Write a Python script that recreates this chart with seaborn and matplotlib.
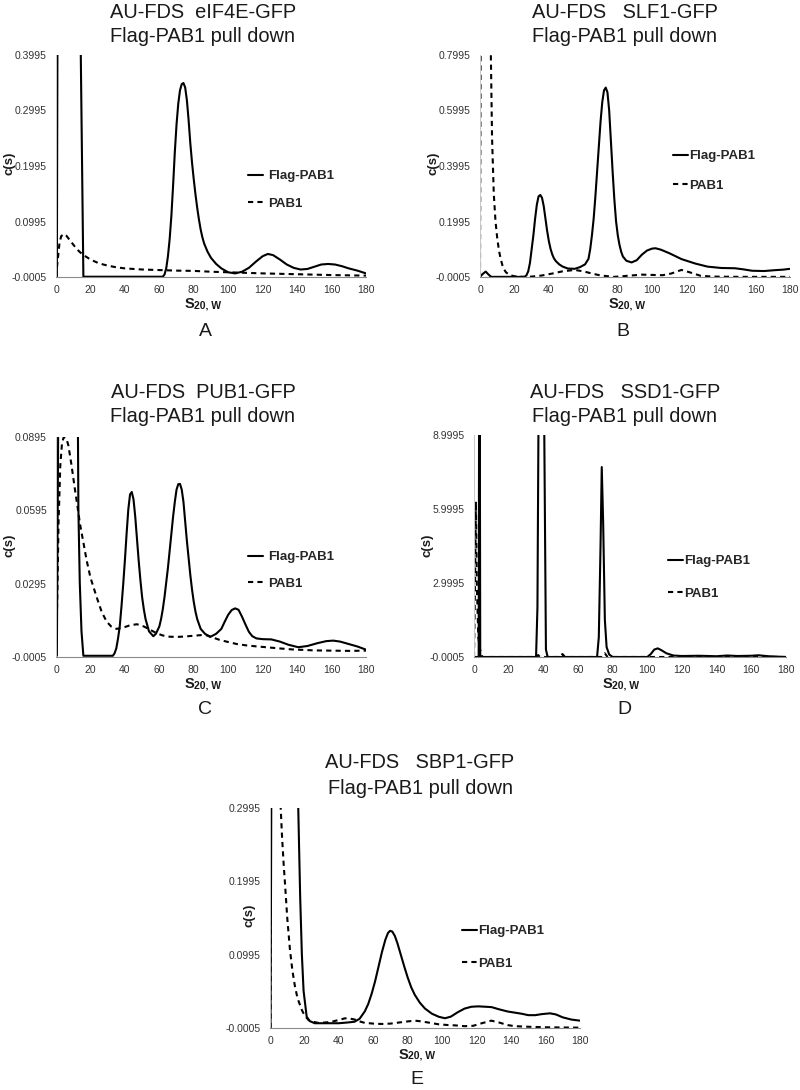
import matplotlib
matplotlib.use("Agg")
import matplotlib.pyplot as plt
import seaborn as sns

# ---------------- data ----------------
x_ticks = [0, 20, 40, 60, 80, 100, 120, 140, 160, 180]

# Panel A  eIF4E-GFP
a_flag_s = [0, 0.5, 0.9, 1.5, 13.5, 14.2, 15.9, 17, 62, 63, 64, 65, 66, 67, 68, 69, 70, 71, 72, 73, 74, 75, 76, 77,
            78, 79, 80, 81, 82, 83, 84, 85, 86, 88, 90, 93, 96, 100, 104, 108, 112, 116, 120, 123, 126, 130, 134,
            138, 142, 146, 150, 154, 158, 162, 166, 170, 175, 180]
a_flag_c = [0, 0, 0.5, 0.9, 0.9, 0.45, 0.0, 0.0, 0.0, 0.004, 0.015, 0.037, 0.068, 0.11, 0.165, 0.225, 0.275, 0.312,
            0.336, 0.347, 0.349, 0.341, 0.318, 0.282, 0.24, 0.205, 0.175, 0.148, 0.124, 0.103, 0.085, 0.071, 0.06,
            0.045, 0.034, 0.023, 0.015, 0.008, 0.006, 0.009, 0.016, 0.027, 0.037, 0.041, 0.039, 0.031, 0.022, 0.016,
            0.013, 0.014, 0.018, 0.022, 0.023, 0.022, 0.019, 0.015, 0.011, 0.006]
a_pab_s = [0, 1, 2, 3, 4.6, 6, 8, 10, 12, 14, 16, 20, 25, 30, 35, 40, 50, 60, 70, 80, 90, 100, 110, 120, 140, 160, 180]
a_pab_c = [0, 0.03, 0.06, 0.073, 0.077, 0.074, 0.066, 0.058, 0.05, 0.044, 0.039, 0.031, 0.024, 0.02, 0.017, 0.015,
           0.013, 0.012, 0.011, 0.0105, 0.009, 0.008, 0.007, 0.006, 0.0045, 0.003, 0.002]
a_yticks = [-0.0005, 0.0995, 0.1995, 0.2995, 0.3995]
a_ylabels = ["-0.0005", "0.0995", "0.1995", "0.2995", "0.3995"]

# Panel B  SLF1-GFP
b_flag_s = [0, 1.5, 3.3, 5, 6.5, 26, 27, 28, 29, 30, 31, 32, 33, 34, 35, 36, 37, 38, 39, 40, 41, 42, 43, 44, 46, 48,
            51, 55, 58, 61, 63, 64, 65, 66, 67, 68, 69, 70, 71, 72, 73, 74, 75, 76, 77, 78, 79, 80, 81, 82, 83, 85,
            88, 91, 94, 97, 100, 102, 105, 110, 117, 125, 132, 140, 148, 153, 158, 165, 171, 176, 180]
b_flag_c = [0, 0.01, 0.019, 0.008, 0.0, 0.0, 0.006, 0.02, 0.05, 0.1, 0.15, 0.21, 0.26, 0.29, 0.295, 0.285, 0.255,
            0.21, 0.165, 0.128, 0.1, 0.08, 0.066, 0.057, 0.045, 0.037, 0.03, 0.029, 0.035, 0.045, 0.065, 0.1, 0.15,
            0.21, 0.29, 0.38, 0.47, 0.56, 0.63, 0.672, 0.682, 0.665, 0.6, 0.49, 0.38, 0.28, 0.2, 0.15, 0.115, 0.09,
            0.073, 0.058, 0.052, 0.06, 0.08, 0.095, 0.102, 0.103, 0.098, 0.085, 0.064, 0.048, 0.037, 0.032, 0.031,
            0.027, 0.022, 0.021, 0.024, 0.026, 0.029]
b_pab_s = [0, 0.4, 1, 5.5, 6.3, 7, 8, 9, 10, 11, 12, 13, 14, 15, 17, 20, 25, 30, 36, 42, 48, 55, 60, 65, 70, 78, 86,
           94, 100, 106, 111, 117, 122, 128, 135, 150, 180]
b_pab_c = [0, 0.9, 1.5, 1.5, 0.8, 0.5, 0.3, 0.2, 0.14, 0.095, 0.065, 0.042, 0.027, 0.017, 0.007, 0.002, 0.0, 0.001,
           0.005, 0.012, 0.02, 0.025, 0.02, 0.012, 0.005, 0.0, 0.004, 0.008, 0.007, 0.006, 0.012, 0.025, 0.016, 0.004,
           0.001, 0.0, 0.0]
b_yticks = [-0.0005, 0.1995, 0.3995, 0.5995, 0.7995]
b_ylabels = ["-0.0005", "0.1995", "0.3995", "0.5995", "0.7995"]

# Panel C  PUB1-GFP
c_flag_s = [0, 0.5, 0.9, 1.5, 11.5, 12.5, 13.0, 13.8, 14.8, 15.9, 33, 34, 35, 36, 37, 38, 39, 40, 41, 42, 43, 44, 45,
            46, 47, 48, 49, 50, 51, 52, 54, 56.5, 58, 60, 61, 62, 63, 64, 65, 66, 67, 68, 69, 70, 71, 72, 73, 74,
            75, 76, 77, 78, 79, 80, 81, 82, 84, 86.5, 89.5, 93, 96, 98, 100, 102, 104, 106, 108, 110, 112, 114,
            116.4, 120, 125, 130, 135, 140.7, 146, 152, 157, 161, 165, 170, 175, 180]
c_flag_c = [0, 0, 0.05, 0.12, 0.12, 0.12, 0.06, 0.03, 0.01, 0.0, 0.0, 0.001, 0.003, 0.007, 0.012, 0.02, 0.029, 0.039,
            0.05, 0.06, 0.066, 0.067, 0.064, 0.057, 0.048, 0.039, 0.031, 0.024, 0.019, 0.015, 0.01, 0.008, 0.009,
            0.012, 0.015, 0.019, 0.024, 0.03, 0.036, 0.043, 0.05, 0.057, 0.063, 0.068, 0.0702, 0.0703, 0.068, 0.063,
            0.055, 0.047, 0.04, 0.033, 0.027, 0.022, 0.018, 0.015, 0.011, 0.009, 0.0077, 0.009, 0.011, 0.014, 0.0168,
            0.0187, 0.0194, 0.0188, 0.016, 0.0128, 0.0098, 0.008, 0.0071, 0.0068, 0.0067, 0.0058, 0.0045, 0.0035,
            0.004, 0.0052, 0.006, 0.0062, 0.0058, 0.0048, 0.0038, 0.0025]
c_pab_s = [0, 0.5, 1.5, 2.5, 3.5, 4.5, 6, 7.2, 9, 11, 12.5, 13.9, 16, 17.8, 20, 23.6, 26.5, 29.4, 32, 35.2, 39, 43,
           47, 51, 55, 58.5, 62, 66, 70, 75, 80, 85, 88, 91, 95, 99, 105, 111, 117, 122, 130, 137, 143.6, 150, 160,
           170, 180]
c_pab_c = [0, 0.015, 0.055, 0.078, 0.087, 0.0895, 0.089, 0.086, 0.078, 0.068, 0.061, 0.054, 0.046, 0.039, 0.032,
           0.024, 0.018, 0.014, 0.012, 0.011, 0.0115, 0.0125, 0.0129, 0.012, 0.0105, 0.0092, 0.0083, 0.0078, 0.0077,
           0.0079, 0.0082, 0.0085, 0.0083, 0.0075, 0.0065, 0.0058, 0.0048, 0.0042, 0.0038, 0.0035, 0.003, 0.0026,
           0.0024, 0.0022, 0.0021, 0.002, 0.0021]
c_yticks = [-0.0005, 0.0295, 0.0595, 0.0895]
c_ylabels = ["-0.0005", "0.0295", "0.0595", "0.0895"]

# Panel D  SSD1-GFP
d_flag_s = [0, 2.7, 3.0, 3.3, 3.6, 35.8, 36.6, 37.2, 38.8, 40.5, 41.5, 42.5, 71, 72, 73, 73.7, 74.5, 75.5, 76.5, 78,
            80, 100, 102, 104, 106, 108, 111, 115, 120, 130, 140, 146, 152, 160, 164, 170, 180]
d_flag_c = [0, 0, 12, 12, 0, 0, 2.0, 9.5, 14, 9.5, 0.3, 0, 0, 0.8, 4.5, 7.7, 5.5, 1.5, 0.4, 0.1, 0.0, 0.0, 0.12, 0.3,
            0.35, 0.28, 0.15, 0.06, 0.04, 0.05, 0.03, 0.06, 0.04, 0.05, 0.07, 0.03, 0.0]
d_pab_s = [0, 0.6, 1.1, 1.6, 2.5, 3.5, 4.7, 36, 37, 38, 50, 51, 52.5, 74, 75.5, 77, 100, 180]
d_pab_c = [0, 3.0, 6.3, 3.0, 0.8, 0.3, 0.0, 0.0, 0.08, 0.0, 0.0, 0.12, 0.0, 0.0, 0.15, 0.0, 0.0, 0.0]
d_yticks = [-0.0005, 2.9995, 5.9995, 8.9995]
d_ylabels = ["-0.0005", "2.9995", "5.9995", "8.9995"]

# Panel E  SBP1-GFP
e_flag_s = [0, 0.3, 0.6, 1.0, 15.8, 16.4, 17.5, 18.5, 19.5, 21.3, 23, 26, 30, 35, 40, 45, 49, 52, 55, 57, 59, 61, 63,
            65, 67, 68.5, 69.7, 71, 72.5, 74, 76, 78, 80, 82, 84, 87, 90, 94, 98, 101.6, 105, 109, 113, 117, 121,
            125, 128.6, 133, 138, 142, 146, 150, 154, 158, 162.6, 166, 170, 175, 180]
e_flag_c = [0, 0.0, 0.2, 0.5, 0.5, 0.3, 0.18, 0.1, 0.05, 0.015, 0.009, 0.006, 0.006, 0.006, 0.006, 0.007, 0.008,
            0.012, 0.022, 0.032, 0.046, 0.063, 0.083, 0.103, 0.12, 0.129, 0.132, 0.131, 0.125, 0.115, 0.099, 0.083,
            0.068, 0.055, 0.045, 0.034, 0.026, 0.019, 0.0148, 0.0128, 0.015, 0.021, 0.026, 0.0285, 0.029, 0.0285,
            0.028, 0.025, 0.022, 0.0205, 0.019, 0.017, 0.017, 0.0185, 0.0195, 0.018, 0.014, 0.011, 0.0095]
e_pab_s = [0, 0.3, 0.8, 5.6, 6.2, 7, 8, 8.7, 10, 11.6, 13, 14.5, 16, 18.4, 20, 22.3, 25, 28, 32, 35.8, 40, 43.5, 46,
           49.3, 52, 55, 60, 64.7, 70, 75, 80, 84.2, 88, 93, 98, 103.5, 108, 113, 118, 123, 128.5, 133, 138, 142,
           150, 160, 170, 180]
e_pab_c = [0, 0.0, 0.6, 0.6, 0.3, 0.26, 0.22, 0.197, 0.15, 0.106, 0.078, 0.056, 0.04, 0.0245, 0.017, 0.0105, 0.008,
           0.0065, 0.007, 0.008, 0.0105, 0.0127, 0.0125, 0.011, 0.0085, 0.0065, 0.0055, 0.005, 0.0055, 0.007, 0.0085,
           0.0095, 0.0085, 0.0065, 0.0045, 0.0035, 0.003, 0.002, 0.0025, 0.006, 0.0095, 0.007, 0.0035, 0.002,
           0.0012, 0.0005, 0.0002, 0.0]
e_yticks = [-0.0005, 0.0995, 0.1995, 0.2995]
e_ylabels = ["-0.0005", "0.0995", "0.1995", "0.2995"]

titles = [("AU-FDS  eIF4E-GFP", "Flag-PAB1 pull down"),
          ("AU-FDS   SLF1-GFP", "Flag-PAB1 pull down"),
          ("AU-FDS  PUB1-GFP", "Flag-PAB1 pull down"),
          ("AU-FDS   SSD1-GFP", "Flag-PAB1 pull down"),
          ("AU-FDS   SBP1-GFP", "Flag-PAB1 pull down")]
panel_letters = ["A", "B", "C", "D", "E"]
series_names = ["Flag-PAB1", "PAB1"]

# ---------------- style ----------------
sns.set_style("white")
plt.rcParams['font.family'] = ['Liberation Sans', 'DejaVu Sans']

W, H = 800, 1090
fig = plt.figure(figsize=(W / 100, H / 100), dpi=100)


def fx(px):
    return px / W


def fy(py):
    return 1 - py / H


# layout in pixels: left, right, top, bottom
layout = [
    dict(box=(56, 366, 55, 277), title_x=203, title_y=(12, 37), ylab=(10, 163), letter=(205, 332),
         leg=(248, 190, 30, 0.38)),
    dict(box=(480, 790, 55, 277), title_x=625, title_y=(12, 37), ylab=(433, 163), letter=(623, 332),
         leg=(673, 171, 32, 0.05)),
    dict(box=(56, 366, 437, 657), title_x=203, title_y=(392, 417), ylab=(9, 545), letter=(205, 710),
         leg=(248, 570.5, 29, 0.38)),
    dict(box=(474, 786, 435, 657), title_x=625, title_y=(392, 417), ylab=(428, 545), letter=(624, 710),
         leg=(668, 577.5, 35, 0.05)),
    dict(box=(270, 580, 808, 1028), title_x=420, title_y=(763, 788), ylab=(250, 915), letter=(417, 1080),
         leg=(462, 947.5, 35, 0.05)),
]

data = [
    (a_flag_s, a_flag_c, a_pab_s, a_pab_c, a_yticks, a_ylabels),
    (b_flag_s, b_flag_c, b_pab_s, b_pab_c, b_yticks, b_ylabels),
    (c_flag_s, c_flag_c, c_pab_s, c_pab_c, c_yticks, c_ylabels),
    (d_flag_s, d_flag_c, d_pab_s, d_pab_c, d_yticks, d_ylabels),
    (e_flag_s, e_flag_c, e_pab_s, e_pab_c, e_yticks, e_ylabels),
]

leg_fs = 9.5
leg_px = leg_fs * 100 / 72

for i, (lay, dat) in enumerate(zip(layout, data)):
    l, r, t, b = lay["box"]
    ax = fig.add_axes([fx(l), fy(b), fx(r - l), (b - t) / H])
    fs, fc, ps, pc, yt, yl = dat
    sns.lineplot(x=fs, y=fc, ax=ax, color="black", linewidth=1.5, estimator=None, sort=False,
                 label=series_names[0])
    sns.lineplot(x=ps, y=pc, ax=ax, color="black", linewidth=1.5, estimator=None, sort=False,
                 linestyle=(0, (2.5, 2)), label=series_names[1])
    for ln in ax.get_lines():
        ln.set_solid_joinstyle("round")
        ln.set_dash_joinstyle("round")
    ax.set_xlim(0, 180)
    ax.set_ylim(yt[0], yt[-1])
    ax.set_xticks(x_ticks)
    ax.set_xticklabels([str(v) for v in x_ticks])
    ax.set_yticks(yt)
    ax.set_yticklabels(yl)
    ax.set_xlabel("")
    ax.set_ylabel("")
    for side in ("top", "right"):
        ax.spines[side].set_visible(False)
    ax.spines["left"].set_color("#c8c8c8")
    ax.spines["left"].set_linewidth(0.7)
    ax.spines["bottom"].set_color("#8a8a8a")
    ax.spines["bottom"].set_linewidth(0.8)
    ax.tick_params(axis="both", which="both", direction="out", length=2.5, width=0.6,
                   color="#999999", labelsize=7.5, labelcolor="#333333")
    ax.tick_params(axis="x", pad=3)
    ax.tick_params(axis="y", pad=4)
    ax.set_facecolor("none")

    # legend
    hx, hy, pitch, tpad = lay["leg"]
    handles, labels = ax.get_legend_handles_labels()
    ls = pitch / leg_px - 1.12
    ax.legend(handles, labels, loc="center left", bbox_to_anchor=(fx(hx), fy(hy)),
              bbox_transform=fig.transFigure, frameon=False, borderpad=0, borderaxespad=0,
              handlelength=1.15, handletextpad=tpad, labelspacing=ls,
              prop=dict(size=leg_fs, weight="bold"))

    # titles
    t1, t2 = titles[i]
    fig.text(fx(lay["title_x"]), fy(lay["title_y"][0]), t1, ha="center", va="center",
             fontsize=14.4, color="#1a1a1a")
    fig.text(fx(lay["title_x"]), fy(lay["title_y"][1]), t2, ha="center", va="center",
             fontsize=14.4, color="#1a1a1a")

    # y label
    fig.text(fx(lay["ylab"][0]), fy(lay["ylab"][1]), "c(s)", rotation=90, ha="center", va="center",
             fontsize=9.5, fontweight="bold", color="#1a1a1a")

    # x label  S20, W
    sx = l + 138
    sy = b + 31
    fig.text(fx(sx), fy(sy), "S", ha="right", va="baseline", fontsize=10.5, fontweight="bold",
             color="#1a1a1a")
    fig.text(fx(sx + 0.5), fy(sy), "20, W", ha="left", va="baseline", fontsize=7.5, fontweight="bold",
             color="#1a1a1a")

    # panel letter
    fig.text(fx(lay["letter"][0]), fy(lay["letter"][1]), panel_letters[i], ha="center", va="center",
             fontsize=14, color="#1a1a1a")

fig.savefig("out.png", dpi=100, facecolor="white")
